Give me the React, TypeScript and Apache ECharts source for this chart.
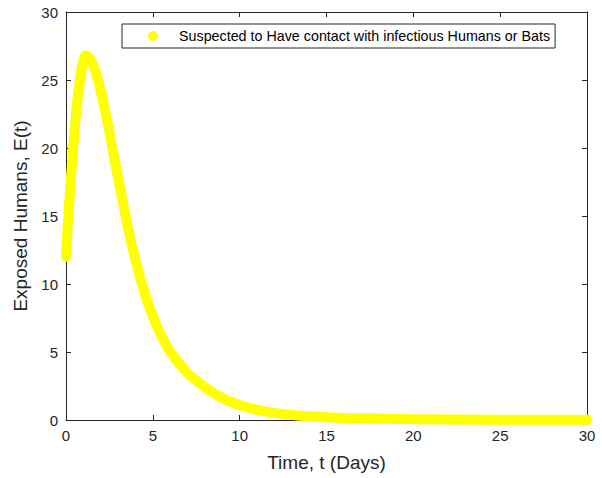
import React, { useEffect, useRef } from "react";
import * as echarts from "echarts";

// Time (days) and exposed humans E(t)
const timeDays = [0, 0.05, 0.1, 0.2, 0.3, 0.45, 0.6, 0.75, 0.9, 1.0, 1.12, 1.25, 1.4, 1.7, 2.0, 2.4, 2.8, 3.2, 3.6, 4.0, 4.5, 5.0, 5.5, 6.0, 7.0, 8.0, 9.0, 10, 11, 12, 13, 14, 15, 17, 20, 25, 30];
const exposed = [12, 13.2, 14.3, 16.3, 18.1, 20.6, 22.8, 24.5, 25.8, 26.4, 26.8, 26.74, 26.52, 25.62, 24.2, 21.8, 19.14, 16.48, 13.98, 11.74, 9.45, 7.6, 6.15, 5.0, 3.45, 2.4, 1.62, 1.1, 0.75, 0.52, 0.37, 0.27, 0.2, 0.12, 0.06, 0.02, 0.01];

const xTicks = [0, 5, 10, 15, 20, 25, 30];
const yTicks = [0, 5, 10, 15, 20, 25, 30];

const seriesName = "Suspected to Have contact with infectious Humans or Bats";
const xLabel = "Time, t (Days)";
const yLabel = "Exposed Humans, E(t)";

const axisColor = "#262626";
const font = "Liberation Sans, Arial, Helvetica, sans-serif";

export default function App() {
  const ref = useRef<HTMLDivElement>(null);

  useEffect(() => {
    if (!ref.current) return;
    const chart = echarts.init(ref.current, undefined, { renderer: "svg" });

    const baseAxis = {
      type: "value" as const,
      min: xTicks[0],
      max: xTicks[xTicks.length - 1],
      interval: xTicks[1] - xTicks[0],
      axisLine: { show: true, onZero: false, lineStyle: { color: axisColor, width: 1 } },
      axisTick: { show: true, inside: true, length: 5, lineStyle: { color: axisColor } },
      splitLine: { show: false },
    };
    const baseYAxis = {
      ...baseAxis,
      min: yTicks[0],
      max: yTicks[yTicks.length - 1],
      interval: yTicks[1] - yTicks[0],
    };

    chart.setOption({
      animation: false,
      backgroundColor: "#ffffff",
      textStyle: { fontFamily: font },
      grid: { left: 66, right: 15, top: 12, bottom: 58, containLabel: false },
      legend: {
        data: [{ name: seriesName, icon: "circle" }],
        left: 122,
        top: 24,
        orient: "horizontal",
        padding: [5, 5, 5, 26],
        itemWidth: 10,
        itemHeight: 10,
        borderColor: "#262626",
        borderWidth: 1,
        backgroundColor: "#ffffff",
        textStyle: { fontSize: 14.3, color: "#000000", fontFamily: font, padding: [0, 0, 0, 16] },
      },
      xAxis: [
        {
          ...baseAxis,
          position: "bottom",
          name: xLabel,
          nameLocation: "middle",
          nameGap: 33,
          nameTextStyle: { fontSize: 19, color: axisColor, fontFamily: font },
          axisLabel: { show: true, fontSize: 15, color: axisColor, margin: 8, fontFamily: font },
        },
        {
          ...baseAxis,
          position: "top",
          axisLabel: { show: false },
        },
      ],
      yAxis: [
        {
          ...baseYAxis,
          position: "left",
          name: yLabel,
          nameLocation: "middle",
          nameGap: 31,
          nameTextStyle: { fontSize: 19, color: axisColor, fontFamily: font },
          axisLabel: { show: true, fontSize: 15, color: axisColor, margin: 8, fontFamily: font },
        },
        {
          ...baseYAxis,
          position: "right",
          axisLabel: { show: false },
        },
      ],
      series: [
        {
          name: seriesName,
          type: "line",
          data: timeDays.map((t, i) => [t, exposed[i]]),
          smooth: 0.3,
          symbol: "none",
          clip: false,
          color: "#ffff00",
          lineStyle: { width: 10, color: "#ffff00", cap: "round", join: "round" },
        },
      ],
    });

    return () => chart.dispose();
  }, []);

  return (
    <div
      ref={ref}
      style={{ position: "fixed", left: 0, top: 0, width: 602, height: 478 }}
    />
  );
}
